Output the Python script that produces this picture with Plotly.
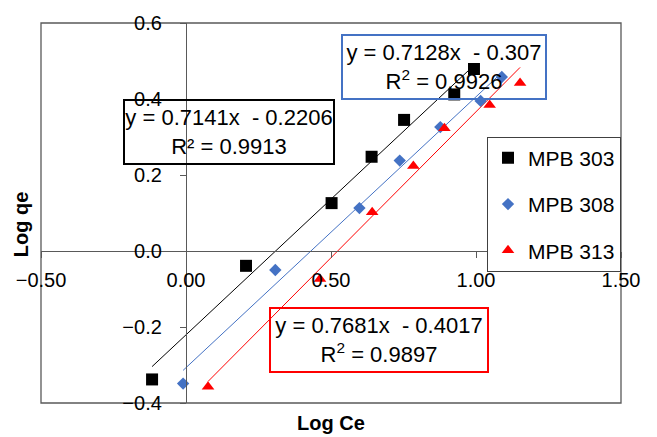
import plotly.graph_objects as go

# ---- data ----
x303 = [-0.117, 0.207, 0.502, 0.640, 0.752, 0.925, 0.993]
y303 = [-0.338, -0.039, 0.126, 0.248, 0.345, 0.412, 0.479]
x308 = [-0.010, 0.308, 0.598, 0.737, 0.877, 1.016, 1.089]
y308 = [-0.349, -0.050, 0.113, 0.238, 0.326, 0.395, 0.458]
x313 = [0.076, 0.462, 0.642, 0.784, 0.891, 1.047, 1.152]
y313 = [-0.357, -0.074, 0.102, 0.224, 0.323, 0.384, 0.442]

names = ["MPB 303", "MPB 308", "MPB 313"]
slopes = [0.7141, 0.7128, 0.7681]
intercepts = [-0.2206, -0.307, -0.4017]
r2 = [0.9913, 0.9926, 0.9897]

xticks = [-0.5, 0.0, 0.5, 1.0, 1.5]
yticks = [-0.4, -0.2, 0.0, 0.2, 0.4, 0.6]

FONT = "Liberation Sans"
colors = ["#000000", "#4472C4", "#FF0000"]
symbols = ["square", "diamond", "triangle-up"]
sizes = [12, 9.5, 11]
xs = [x303, x308, x313]
ys = [y303, y308, y313]

fig = go.Figure()
for i in range(3):
    x0, x1 = min(xs[i]), max(xs[i])
    fig.add_trace(go.Scatter(
        x=[x0, x1], y=[slopes[i] * x0 + intercepts[i], slopes[i] * x1 + intercepts[i]],
        mode="lines", line=dict(color=colors[i], width=1), showlegend=False,
        hoverinfo="skip"))
for i in range(3):
    fig.add_trace(go.Scatter(
        x=xs[i], y=ys[i], mode="markers", name=names[i], legendgroup=names[i],
        marker=dict(color=colors[i], symbol=symbols[i], size=sizes[i])))

# equation boxes
boxes = [
    (0.148, 0.312, "y = 0.7141x  - 0.2206<br>R² = 0.9913", "#000000", 208, 62),
    (0.890, 0.483, "y = 0.7128x  - 0.307<br>R<sup>2</sup> = 0.9926", "#4472C4", 202, 62),
    (0.666, -0.234, "y = 0.7681x  - 0.4017<br>R<sup>2</sup> = 0.9897", "#FF0000", 216, 62),
]
for bx, by, txt, col, w, h in boxes:
    fig.add_annotation(x=bx, y=by, xref="x", yref="y", text=txt, showarrow=False,
                       font=dict(family=FONT, size=22, color="#000000"),
                       align="center", bgcolor="rgba(255,255,255,0)",
                       bordercolor=col, borderwidth=2, borderpad=0,
                       width=w, height=h)

# axis titles
fig.add_annotation(x=0.5, y=-0.052, xref="paper", yref="paper", text="<b>Log Ce</b>",
                   showarrow=False, xanchor="center", yanchor="middle",
                   font=dict(family=FONT, size=20, color="#000000"))
fig.add_annotation(x=-0.033, y=0.47, xref="paper", yref="paper", text="<b>Log qe</b>",
                   showarrow=False, textangle=-90, xanchor="center", yanchor="middle",
                   font=dict(family=FONT, size=20, color="#000000"))

# plot area border
fig.add_shape(type="rect", xref="paper", yref="paper", x0=0, y0=0, x1=1, y1=1,
              line=dict(color="#595959", width=1.3), layer="below")

fig.update_layout(
    width=657, height=437,
    margin=dict(l=41, r=36, t=15, b=34),
    paper_bgcolor="white", plot_bgcolor="white",
    font=dict(family=FONT, size=20, color="#000000"),
    showlegend=True,
    legend=dict(x=(487 - 41) / 580, y=(403 - 131) / 388, xanchor="left", yanchor="top",
                bgcolor="white", bordercolor="#404040", borderwidth=1,
                font=dict(family=FONT, size=21, color="#000000"),
                tracegroupgap=16, itemwidth=30),
    xaxis=dict(range=[-0.5, 1.5], tickvals=xticks, tickformat=".2f",
               showgrid=False, zeroline=False, showline=True, linecolor="#595959",
               linewidth=1.3, ticks="outside", ticklen=6, tickcolor="#595959",
               anchor="free", position=0.4, ticklabelstandoff=5,
               tickfont=dict(family=FONT, size=20)),
    yaxis=dict(range=[-0.4, 0.6], tickvals=yticks, tickformat=".1f",
               showgrid=False, zeroline=False, showline=True, linecolor="#595959",
               linewidth=1.3, ticks="outside", ticklen=6, tickcolor="#595959",
               anchor="free", position=0.25, ticklabelstandoff=14,
               tickfont=dict(family=FONT, size=20)),
)

fig.write_html("out.html")
